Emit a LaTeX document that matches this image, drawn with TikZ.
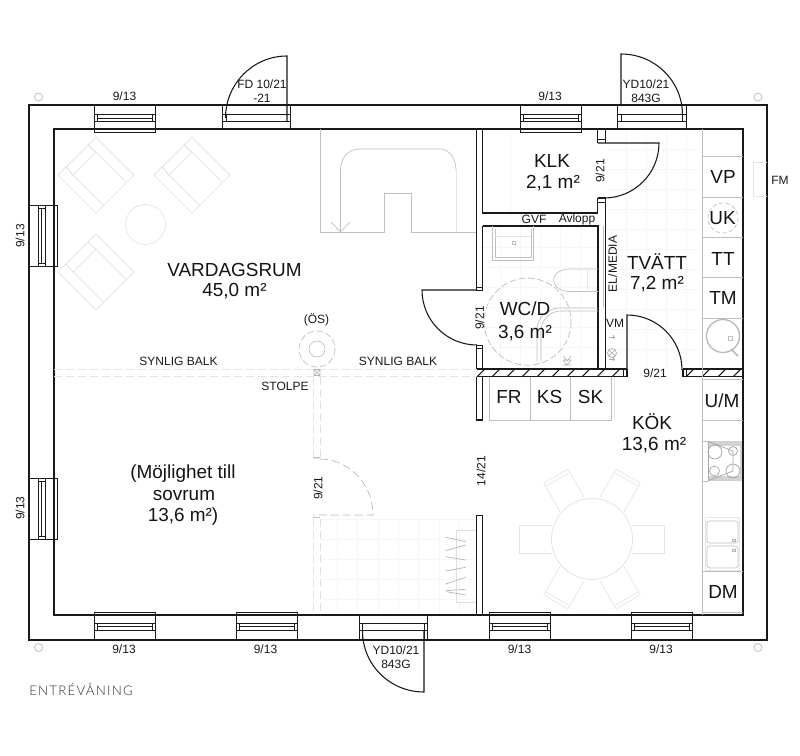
\documentclass[tikz,border=0pt]{standalone}
\usepackage{fontspec}
\setmainfont{Liberation Sans}
\newfontfamily\titlefont[LetterSpace=9]{Lato Light}
\definecolor{wallc}{gray}{0.1}
\definecolor{farc}{gray}{0.9}
\definecolor{midc}{gray}{0.75}
\definecolor{tilec}{gray}{0.965}
\tikzset{
  wall/.style={draw=wallc,line width=1.0pt},
  leaf/.style={draw=wallc,line width=0.8pt},
  fine/.style={draw=wallc,line width=0.55pt},
  mid/.style={draw=midc,line width=0.5pt},
  faint/.style={draw=farc,line width=0.5pt},
  tile/.style={draw=tilec,line width=0.4pt},
  dashg/.style={draw=midc,line width=0.5pt,dash pattern=on 6pt off 3pt},
  bigt/.style={font=\fontsize{14.2}{16}\selectfont,text=black!92,inner sep=0pt},
  lab/.style={font=\fontsize{9}{11}\selectfont,text=black!90,inner sep=0pt},
}
\newcommand{\winT}[1]{%
  \pgfmathsetmacro{\xb}{#1+61}%
  \draw[fine] (#1,105) rectangle (\xb,132.5);
  \draw[fine] (#1,114.5)--(\xb,114.5) (#1+3,118)--(\xb-3,118) (#1,121.5)--(\xb,121.5);
  \draw[fine] (#1+3,114.5)--(#1+3,121.5) (\xb-3,114.5)--(\xb-3,121.5);}
\newcommand{\winB}[1]{%
  \pgfmathsetmacro{\xb}{#1+61}%
  \draw[fine] (#1,612) rectangle (\xb,640);
  \draw[fine] (#1,623)--(\xb,623) (#1+3,626.5)--(\xb-3,626.5) (#1,630.5)--(\xb,630.5);
  \draw[fine] (#1+3,623)--(#1+3,630.5) (\xb-3,623)--(\xb-3,630.5);}
\newcommand{\winL}[1]{%
  \pgfmathsetmacro{\yb}{#1+61}%
  \draw[fine] (29,#1) rectangle (57.5,\yb);
  \draw[fine] (38.5,#1)--(38.5,\yb) (41.5,#1+3)--(41.5,\yb-3) (45.5,#1)--(45.5,\yb);
  \draw[fine] (38.5,#1+3)--(45.5,#1+3) (38.5,\yb-3)--(45.5,\yb-3);}
\newcommand{\chairD}[2]{%
  \begin{scope}[shift={(#1,#2)}]
  \draw[faint,draw=gray!28] (0,-38)--(38,0)--(0,38)--(-38,0)--cycle;
  \draw[faint,draw=gray!28] (-23,0)--(0,-23)--(30.5,7.5) (-23,0)--(7.5,30.5) (-23,0)--(-30,-8) (0,-23)--(-8,-30);
  \end{scope}}
\begin{document}
\begin{tikzpicture}[x=0.75pt,y=-0.75pt]
\useasboundingbox (0,0) rectangle (800,756);
\fill[white] (0,0) rectangle (800,756);

% tile grids
\foreach \x in {500,520,540,560,580}{\draw[tile] (\x,226)--(\x,369);}
\foreach \y in {247,267,287,307,327,347}{\draw[tile] (483,\y)--(598,\y);}
\foreach \x in {626,646,666,686}{\draw[tile] (\x,129)--(\x,369);}
\foreach \y in {149,169,189,209,229,249,269,289,309,329,349}{\draw[tile] (606,\y)--(702,\y);}
\draw[tile] (510,129)--(510,213);
% lower stair grid
\foreach \x in {337.5,357.5,378,398,418,439,459}{\draw[tile] (\x,519)--(\x,615);}
\foreach \y in {519,539,559,579,599}{\draw[tile] (320.5,\y)--(476,\y);}

% walls
\draw[wall,line width=1.1pt] (29,105) rectangle (767,640);
\draw[wall,line width=1.1pt] (54,129) rectangle (743,615);

% corner circles
\foreach \p/\q in {38.5/97,758/97,38.5/647.5,758/647.5}{\draw[midc,line width=0.6pt] (\p,\q) circle[radius=4];}

% windows
\winT{94}\winT{520}
\winB{94}\winB{236}\winB{489}\winB{631}
\winL{205}\winL{478}

% outer doors
\draw[fine] (222,105)--(222,129) (290,105)--(290,129) (222,114.5)--(290,114.5) (222,121.5)--(290,121.5) (226,114.5)--(226,121.5);
\draw[leaf] (287,121.5)--(287,56) .. controls (252.8,56) and (225.5,84) .. (225.5,118);
\draw[fine] (617.5,105)--(617.5,129) (686,105)--(686,129) (617.5,114.5)--(686,114.5) (617.5,121.5)--(686,121.5) (621,114.5)--(621,121.5) (682.5,114.5)--(682.5,121.5);
\draw[leaf] (621,105)--(621,54) .. controls (655,54) and (682.5,81) .. (682.5,115);
\draw[fine] (359,615)--(359,640) (427.5,615)--(427.5,640) (359,623)--(427.5,623) (359,630.5)--(427.5,630.5) (362.5,623)--(362.5,640) (424,623)--(424,640);
\draw[leaf] (424,630.5)--(424,692) .. controls (390,692) and (362.5,665) .. (362.5,631);

% far furniture
\chairD{96}{175}\chairD{192}{175}\chairD{96}{272}
\draw[faint] (145.5,224.5) circle[radius=20];

% upper stairs
\draw[mid] (320.5,129)--(320.5,232)--(384.5,232)--(384.5,193)--(411.5,193)--(411.5,232)--(476.5,232);
\draw[mid] (340.5,232)--(340.5,170) .. controls (340.5,158) and (348,149) .. (360,149)--(440,149) .. controls (449,149) and (456,158) .. (456,170);
\draw[faint] (456,170)--(456,232);
\draw[mid] (331,222)--(340.5,232)--(350,222);

% interior walls
\draw[wall] (476.7,129)--(476.7,287) (482.7,129)--(482.7,213)--(597.5,213)--(597.5,198);
\draw[wall] (597.5,129)--(597.5,143);
\draw[wall] (482.7,226)--(482.7,287) (482.7,226)--(598,226)--(598,369);
\draw[wall] (605.5,129)--(605.5,143) (605.5,198)--(605.5,369);
\draw[fine] (597.5,139)--(605.5,139);
\draw[wall] (597.5,198)--(605.5,198);
\draw[fine] (597.5,202)--(605.5,202);
\draw[fine] (476.7,287)--(482.7,287) (476.7,290.5)--(482.7,290.5) (476.7,345)--(482.7,345) (476.7,348)--(482.7,348);
\draw[wall] (476.7,287)--(476.7,290.5) (482.7,287)--(482.7,290.5);
\draw[wall] (476.7,345)--(476.7,369) (482.7,345)--(482.7,369);
\draw[wall] (476.7,377)--(476.7,420)--(482.7,420)--(482.7,377);
\draw[wall] (476.7,615)--(476.7,515.5)--(482.7,515.5)--(482.7,615);
\draw[mid] (603,226)--(603,307);

% inner door leaves
\draw[leaf] (597.5,143)--(659,143) .. controls (659,173.4) and (634.4,198) .. (604,198);
\draw[leaf] (477,290)--(422,290) .. controls (422,320.4) and (446.6,345) .. (477,345);
\draw[leaf] (627,369)--(627,315) .. controls (657.4,315) and (682,339.6) .. (682,370);

% hatched beam
\draw[leaf] (476.7,369)--(627,369) (476.7,376.8)--(627,376.8) (627,369)--(627,376.8);
\draw[fine] (623.5,369)--(623.5,376.8);
\draw[leaf] (683,369)--(743,369) (683,376.8)--(743,376.8) (683,369)--(683,376.8);
\draw[fine] (686.5,369)--(686.5,376.8);
\foreach \x in {477,492,507,522,537,552,567,582,597,612}{\draw[leaf] (\x,376.8)--(\x+8,369);}
\foreach \x in {686,702,718,733}{\draw[leaf] (\x,376.8)--(\x+8,369);}

% beam and post
\draw[dashg,draw=gray!22] (54,369)--(476,369) (54,376.5)--(476,376.5);
\draw[dashg,draw=gray!25] (313,377)--(313,457) (320.5,377)--(320.5,457) (313,519)--(313,615) (320.5,519)--(320.5,615);
\draw[mid,draw=gray!60] (314,369.5) rectangle (320,375.5) (314,369.5)--(320,375.5) (320,369.5)--(314,375.5);
\draw[dashg,draw=gray!55] (313,458)--(320,458) (320,459) .. controls (349,459) and (373,484) .. (373,515)--(313,515);
\draw[mid] (313,517)--(320,517) (313,457)--(320,457);

% oven symbol
\draw[dashg,dash pattern=on 5pt off 2pt,draw=gray!50] (317,349) circle[radius=18];
\draw[mid,draw=gray!50] (317,349) circle[radius=8];

% lower stair storage
\draw[mid,draw=gray!25] (456,530)--(476,530) (456,530)--(456,602)--(476,602);
\foreach \a/\b/\c/\d in {445.7/537.3/465.7/541.7,445.7/550.7/465.7/545,445.7/556.7/465.7/560,445.7/571/465.7/567.3,445.7/584/465.7/577.3,445.7/590.7/465.7/589.3,446.5/591.7/465.7/595}{\draw[mid,draw=gray!60] (\a,\b)--(\c,\d);}

% table and chairs
\foreach \a in {0,60,120,180,240,300}{
  \begin{scope}[shift={(592,539)},rotate=\a]
    \draw[faint] (40,-14)--(72.5,-14)--(72.5,14)--(40,14);
  \end{scope}}
\foreach \a in {60,120,240,300}{
  \begin{scope}[shift={(592,539)},rotate=\a]
    \draw[faint] (69,-14)--(69,14);
  \end{scope}}
\draw[faint,fill=white,draw=gray!25] (592,539) circle[radius=40.5];

% right bench
\draw[mid] (702,129)--(702,615);
\foreach \y in {156,197,237,277,318,379.5,420,571,612}{\draw[mid] (702,\y)--(743,\y);}
\draw[dashg,dash pattern=on 3pt off 2pt,draw=gray!50] (723,218) circle[radius=15];
\draw[midc,line width=1pt,draw=gray!55] (723,336) circle[radius=16.5];
\draw[midc,line width=1.3pt,draw=gray!55] (731,349)--(738,356);
\draw[mid] (728,336) rectangle (732,340);

% stove
\fill[gray!35] (708,441) rectangle (742,481);
\fill[white] (709,446) rectangle (740,476);
\draw[mid] (702,441)--(708,441) (702,481)--(708,481);
\draw[fine,draw=gray!70] (715,452) circle[radius=7] (733,451) circle[radius=4.5] (714.5,471) circle[radius=5] (733,471) circle[radius=7];
\draw[fine,draw=gray!70] (708.5,441.5)--(733,451)--(733,471)--(708.5,480.5)--cycle;

% sink
\draw[faint] (705.5,517) rectangle (739,570);
\draw[mid,rounded corners=2pt] (707,521) rectangle (738,543);
\draw[mid,rounded corners=2pt] (707,546) rectangle (738,568);
\draw[mid,draw=gray!60] (732.5,539) rectangle (735,541.5) (732.5,549) rectangle (735,551.5);

% WC fittings
\draw[mid] (492.5,226)--(492.5,260)--(533.5,260)--(533.5,226) (495,229)--(495,257)--(531,257)--(531,229);
\draw[faint] (495,236)--(531,236);
\draw[mid] (512,241) rectangle (515,244);
\draw[mid] (598,269)--(570,269) .. controls (560,269) and (553.5,274) .. (553.5,280) .. controls (553.5,286) and (560,291.5) .. (570,291.5)--(598,291.5);
\draw[faint] (587,269)--(587,291.5);
\draw[dashg,dash pattern=on 5pt off 2pt,draw=gray!55] (527.6,321.7) circle[radius=43.5];
\draw[mid] (537,361)--(537,330) .. controls (537,318) and (547,308) .. (560,308)--(598,308);
\draw[mid] (541,361)--(541,331) .. controls (541,320) and (550,311) .. (561,311)--(598,311);
\draw[mid,draw=gray!60] (563,356)--(567,361)--(571,356) (563,360)--(567,365)--(571,360) (563,360)--(571,360) (563,365) -- (571,365);

% FR KS SK
\draw[mid] (489,377)--(489,420)--(611.5,420)--(611.5,377) (530,377)--(530,420) (570.5,377)--(570.5,420);
\draw[faint] (614,377)--(614,420);

% VM symbols
\draw[mid,draw=gray!65] (612,353) circle[radius=4.5] (609,350)--(615,356) (609,356)--(615,350);
\draw[mid,draw=gray!65] (609,337)--(615,337) (613,335)--(613,339) (609,359)--(615,359) (613,357)--(613,361);
% FM box
\draw[faint] (767,162.5)--(753,162.5)--(753,196.5)--(767,196.5);

% labels
\node[bigt] (vard) at (234.5,270) {VARDAGSRUM};
\node[bigt] (vardm) at (234.5,291) {45,0 m²};
\node[bigt] (klk) at (552,161) {KLK};
\node[bigt] (klkm) at (553,183) {2,1 m²};
\node[bigt] (tvatt) at (657,262) {TVÄTT};
\node[bigt] (tvattm) at (657,284) {7,2 m²};
\node[bigt] (wc) at (525,309) {WC/D};
\node[bigt] (wcm) at (525,333) {3,6 m²};
\node[bigt] (kok) at (652,422) {KÖK};
\node[bigt] (kokm) at (654,445) {13,6 m²};
\node[bigt] (mo) at (183,474) {(Möjlighet till};
\node[bigt] (so) at (184,495) {sovrum};
\node[bigt] (som) at (183,517) {13,6 m²)};
\node[bigt] (vp) at (723,177) {VP};
\node[bigt] (uk) at (722.5,218) {UK};
\node[bigt] (tt) at (723,259) {TT};
\node[bigt] (tm) at (723,298) {TM};
\node[bigt] (um) at (722,401) {U/M};
\node[bigt] (dm) at (723,592) {DM};
\node[bigt] (fr) at (509,397) {FR};
\node[bigt] (ks) at (549.5,397) {KS};
\node[bigt] (sk) at (590.5,397) {SK};

\node[lab] (w1) at (124.5,96) {9/13};
\node[lab] (w2) at (550,96) {9/13};
\node[lab,rotate=90] (w3) at (20,236) {9/13};
\node[lab,rotate=90] (w4) at (20,508) {9/13};
\node[lab] (w5) at (124,649) {9/13};
\node[lab] (w6) at (265.5,649) {9/13};
\node[lab] (w7) at (519.5,649) {9/13};
\node[lab] (w8) at (661,649) {9/13};
\node[lab] (fd1) at (262,84) {FD 10/21};
\node[lab] (fd2) at (262,98.5) {-21};
\node[lab] (yd1) at (646,84) {YD10/21};
\node[lab] (yd2) at (646,98.5) {843G};
\node[lab] (yd3) at (396,650) {YD10/21};
\node[lab] (yd4) at (396,664) {843G};
\node[lab] (gvf) at (534,219.5) {GVF};
\node[lab] (avl) at (577,219.5) {Avlopp};
\node[lab] (d1) at (655,373) {9/21};
\node[lab,rotate=90] (d2) at (600,171) {9/21};
\node[lab,rotate=90] (d3) at (479.5,318) {9/21};
\node[lab,rotate=90] (d4) at (318,488) {9/21};
\node[lab,rotate=90] (d5) at (481,471) {14/21};
\node[lab,rotate=90] (el) at (612.5,264) {EL/MEDIA};
\node[lab] (vm) at (615,323) {VM};
\node[lab] (fm) at (780,180) {FM};
\node[lab] (sb1) at (178.5,361) {SYNLIG BALK};
\node[lab] (sb2) at (398,361) {SYNLIG BALK};
\node[lab] (st) at (285,386) {STOLPE};
\node[lab] (os) at (316.5,320) {(ÖS)};
\node[anchor=west,inner sep=0pt,text=black!80,font=\titlefont\fontsize{10}{12}\selectfont] (ent) at (29,689) {ENTRÉVÅNING};
\end{tikzpicture}
\end{document}
